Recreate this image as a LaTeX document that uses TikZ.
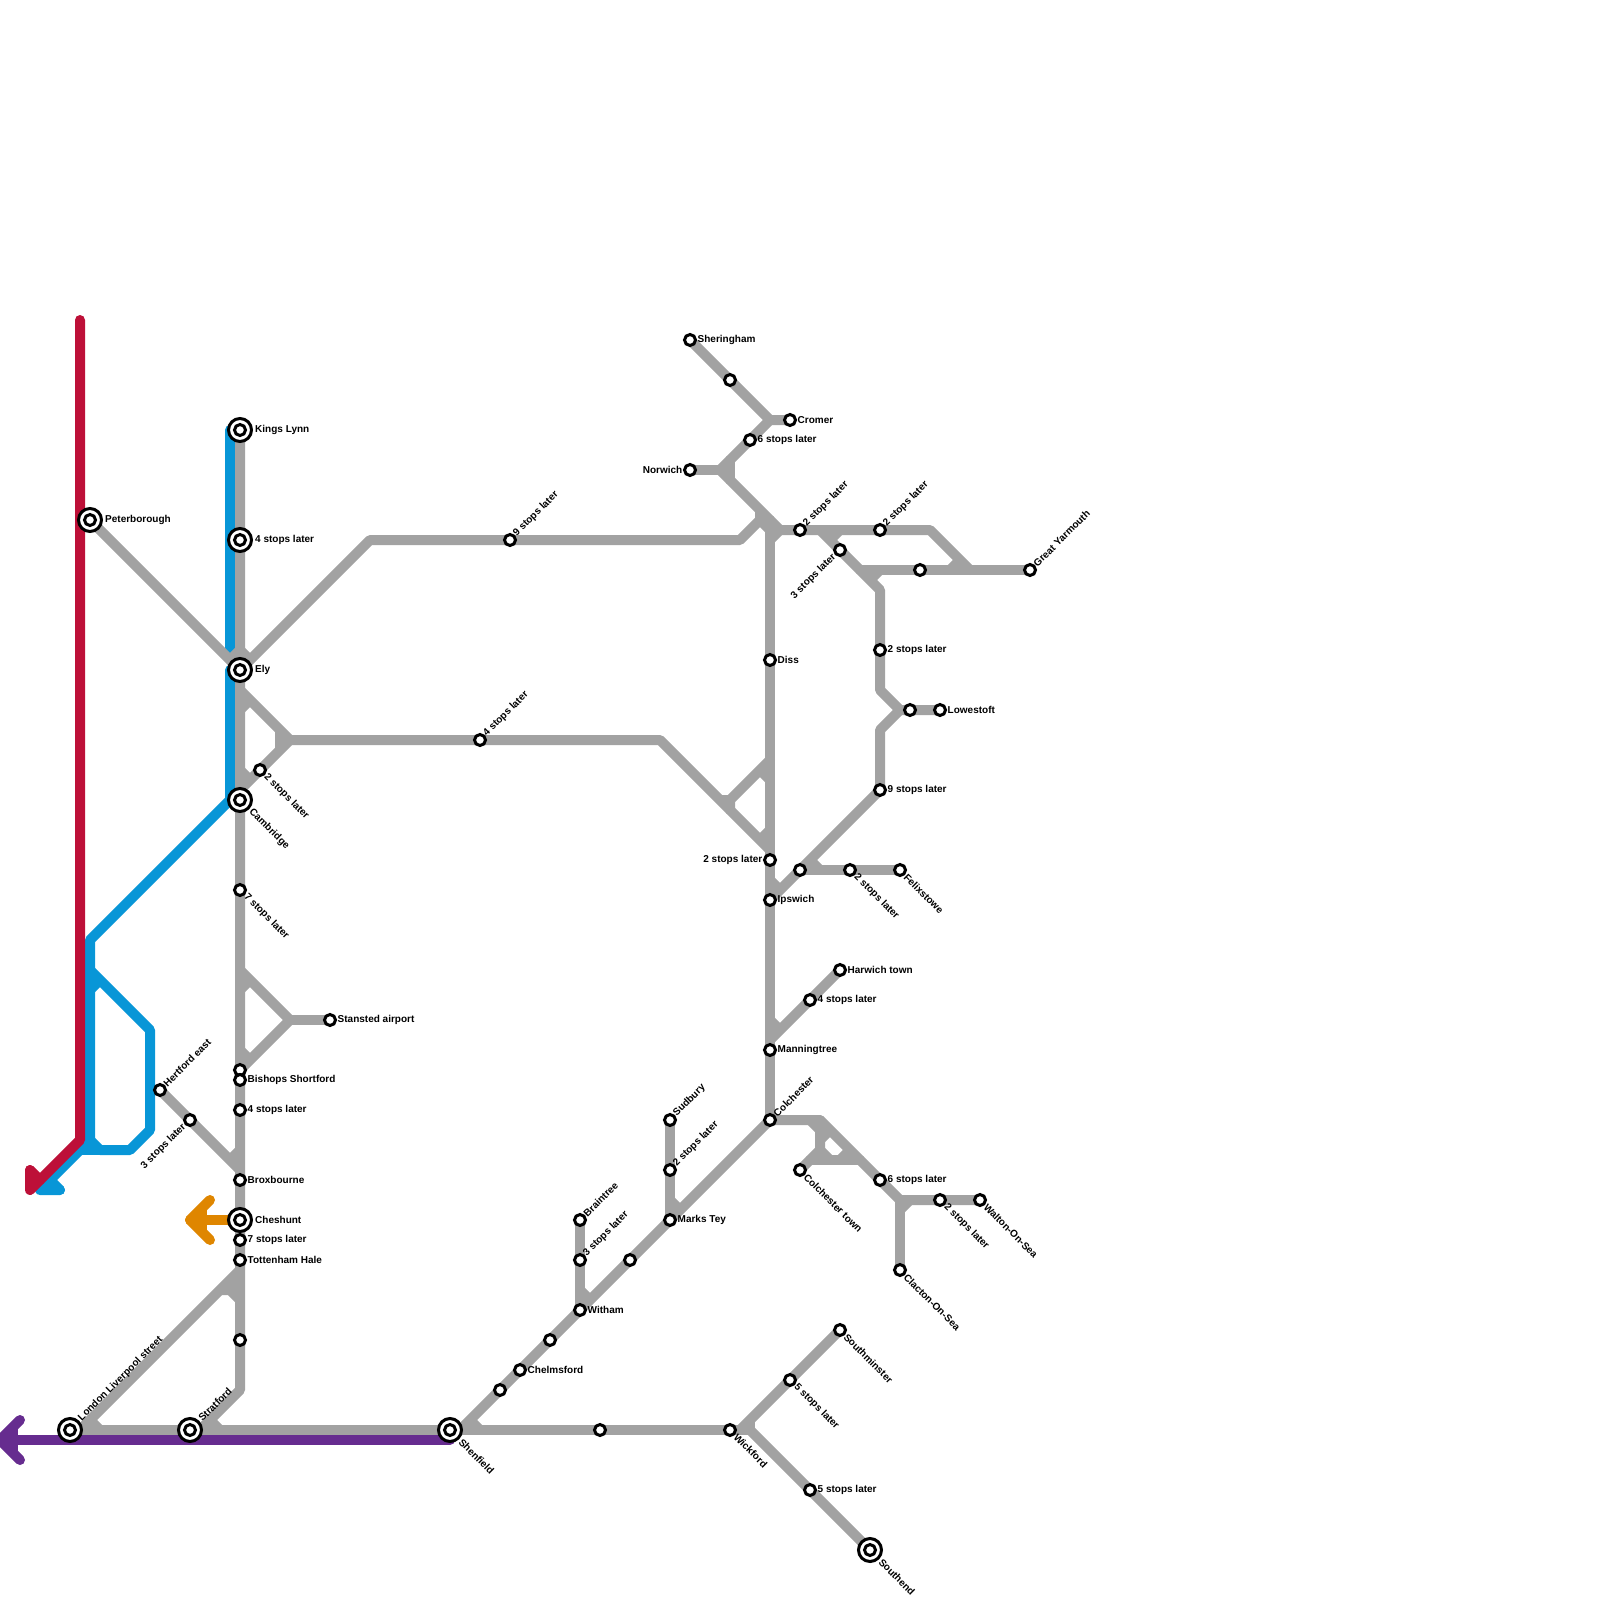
\documentclass[tikz,border=0pt]{standalone}
\usepackage{fontspec}
\setmainfont{Liberation Sans}
\pgfdeclarelayer{lines}
\pgfsetlayers{lines,main}
\definecolor{lgray}{HTML}{A2A2A2}
\definecolor{lblue}{HTML}{0896D7}
\definecolor{lred}{HTML}{BD1038}
\definecolor{lpurple}{HTML}{662C8F}
\definecolor{lorange}{HTML}{DF8600}
\tikzset{
  rail/.style={line width=10pt,line join=round,line cap=round},
  fil/.style={line width=10pt,lgray,line cap=butt},
  stnS/.style={circle,draw=black,fill=white,line width=3pt,inner sep=0pt,minimum size=11pt},
  stnB/.style={circle,draw=black,fill=white,line width=3pt,inner sep=0pt,minimum size=23pt},
  lb/.style={font=\fontsize{10pt}{10pt}\selectfont\bfseries,inner sep=0pt,text=black}
}
\newcommand{\St}[3]{\node[stnS] (#1) at (#2,#3) {};}
\newcommand{\Sb}[3]{\node[stnB] (#1) at (#2,#3) {};\node[stnS] (#1-i) at (#1.center) {};}
\newcommand{\LbR}[2]{\node[lb,anchor=west] (#1-l) at ([shift={(7.5,0)}]#1.center) {#2};}
\newcommand{\LbRR}[2]{\node[lb,anchor=west] (#1-l) at ([shift={(15,0)}]#1.center) {#2};}
\newcommand{\LbL}[2]{\node[lb,anchor=east] (#1-l) at ([shift={(-7.5,0)}]#1.center) {#2};}
\newcommand{\LbD}[2]{\node[lb,anchor=west,rotate=-45] (#1-l) at ([shift={(5.5,5.5)}]#1.center) {#2};}
\newcommand{\LbU}[2]{\node[lb,anchor=west,rotate=45] (#1-l) at ([shift={(5,-5)}]#1.center) {#2};}
\newcommand{\LbDD}[2]{\node[lb,anchor=west,rotate=-45] (#1-l) at ([shift={(10.5,10.5)}]#1.center) {#2};}
\newcommand{\LbUU}[2]{\node[lb,anchor=west,rotate=45] (#1-l) at ([shift={(10,-10.5)}]#1.center) {#2};}
\newcommand{\LbA}[2]{\node[lb,anchor=east,rotate=45] (#1-l) at ([shift={(-5.5,5.5)}]#1.center) {#2};}
\begin{document}
\begin{tikzpicture}[x=1pt,y=-1pt]
\useasboundingbox (0,0) rectangle (1600,1600);
% stations
\Sb{kings}{240}{430}\LbRR{kings}{Kings Lynn}
\Sb{foura}{240}{540}\LbRR{foura}{4 stops later}
\Sb{ely}{240}{670}\LbRR{ely}{Ely}
\Sb{pet}{90}{520}\LbRR{pet}{Peterborough}
\Sb{cam}{240}{800}\LbDD{cam}{Cambridge}
\Sb{chesh}{240}{1220}\LbRR{chesh}{Cheshunt}
\Sb{lon}{70}{1430}\LbUU{lon}{London Liverpool street}
\Sb{strat}{190}{1430}\LbUU{strat}{Stratford}
\Sb{shen}{450}{1430}\LbDD{shen}{Shenfield}
\Sb{send}{870}{1550}\LbDD{send}{Southend}
\St{twoa}{260}{770}\LbD{twoa}{2 stops later}
\St{seva}{240}{890}\LbD{seva}{7 stops later}
\St{bisha}{240}{1070}
\St{bish}{240}{1080}\LbR{bish}{Bishops Shortford}
\St{fourb}{240}{1110}\LbR{fourb}{4 stops later}
\St{brox}{240}{1180}\LbR{brox}{Broxbourne}
\St{sevb}{240}{1240}\LbR{sevb}{7 stops later}
\St{tott}{240}{1260}\LbR{tott}{Tottenham Hale}
\St{unna}{240}{1340}
\St{hert}{160}{1090}\LbU{hert}{Hertford east}
\St{threea}{190}{1120}\LbA{threea}{3 stops later}
\St{stan}{330}{1020}\LbR{stan}{Stansted airport}
\St{ninea}{510}{540}\LbU{ninea}{9 stops later}
\St{fourc}{480}{740}\LbU{fourc}{4 stops later}
\St{sher}{690}{340}\LbR{sher}{Sheringham}
\St{unnb}{730}{380}
\St{crom}{790}{420}\LbR{crom}{Cromer}
\St{sixa}{750}{440}\LbR{sixa}{6 stops later}
\St{norw}{690}{470}\LbL{norw}{Norwich}
\St{twob}{800}{530}\LbU{twob}{2 stops later}
\St{twoc}{880}{530}\LbU{twoc}{2 stops later}
\St{threeb}{840}{550}\LbA{threeb}{3 stops later}
\St{unnc}{920}{570}
\St{yarm}{1030}{570}\LbU{yarm}{Great Yarmouth}
\St{twod}{880}{650}\LbR{twod}{2 stops later}
\St{unnd}{910}{710}
\St{lowe}{940}{710}\LbR{lowe}{Lowestoft}
\St{nineb}{880}{790}\LbR{nineb}{9 stops later}
\St{diss}{770}{660}\LbR{diss}{Diss}
\St{twoe}{770}{860}\LbL{twoe}{2 stops later}
\St{ips}{770}{900}\LbR{ips}{Ipswich}
\St{unne}{800}{870}
\St{twof}{850}{870}\LbD{twof}{2 stops later}
\St{felix}{900}{870}\LbD{felix}{Felixstowe}
\St{harw}{840}{970}\LbR{harw}{Harwich town}
\St{fourd}{810}{1000}\LbR{fourd}{4 stops later}
\St{mann}{770}{1050}\LbR{mann}{Manningtree}
\St{colc}{770}{1120}\LbU{colc}{Colchester}
\St{colt}{800}{1170}\LbD{colt}{Colchester town}
\St{sixb}{880}{1180}\LbR{sixb}{6 stops later}
\St{twog}{940}{1200}\LbD{twog}{2 stops later}
\St{walt}{980}{1200}\LbD{walt}{Walton-On-Sea}
\St{clac}{900}{1270}\LbD{clac}{Clacton-On-Sea}
\St{sud}{670}{1120}\LbU{sud}{Sudbury}
\St{twoh}{670}{1170}\LbU{twoh}{2 stops later}
\St{marks}{670}{1220}\LbR{marks}{Marks Tey}
\St{brain}{580}{1220}\LbU{brain}{Braintree}
\St{threec}{580}{1260}\LbU{threec}{3 stops later}
\St{unnf}{630}{1260}
\St{with}{580}{1310}\LbR{with}{Witham}
\St{unng}{550}{1340}
\St{chelm}{520}{1370}\LbR{chelm}{Chelmsford}
\St{unnh}{500}{1390}
\St{unni}{600}{1430}
\St{wick}{730}{1430}\LbD{wick}{Wickford}
\St{fivea}{790}{1380}\LbD{fivea}{5 stops later}
\St{smin}{840}{1330}\LbD{smin}{Southminster}
\St{fiveb}{810}{1490}\LbR{fiveb}{5 stops later}
\begin{pgfonlayer}{lines}
% blue
\draw[rail,lblue] (230,430) -- (230,650);
\draw[rail,lblue] (230,670) -- (230,800) -- (90,940) -- (90,1140) -- (40,1190) -- (60,1190);
\draw[rail,lblue] (90,970) -- (150,1030) -- (150,1130) -- (130,1150) -- (100,1150) -- (90,1140);
\draw[line width=10pt,lblue] (82,1150) -- (100,1150);
\draw[line width=10pt,lblue] (90,990) -- (100,980);
\draw[line width=10pt,lblue,line cap=round] (50,1180) -- (60,1190);
% gray
\begin{scope}[rail,lgray]
\draw (kings.center) -- (tott.center) -- (240,1390) -- (200,1430);
\draw (pet.center) -- (ely.center);
\draw (ely.center) -- (370,540) -- (740,540) -- (760,520);
\draw (240,690) -- (290,740) -- (240,790);
\draw (290,740) -- (660,740) -- (770,850);
\draw (240,970) -- (290,1020) -- (bisha.center);
\draw (290,1020) -- (stan.center);
\draw (hert.center) -- (240,1170);
\draw (lon.center) -- (wick.center) -- (750,1430);
\draw (80,1430) -- (240,1270);
\draw (460,1430) -- (colc.center);
\draw (colc.center) -- (mann.center) -- (ips.center) -- (diss.center) -- (770,520);
\draw (sher.center) -- (770,420) -- (crom.center);
\draw (770,420) -- (720,470) -- (770,520);
\draw (norw.center) -- (720,470);
\draw (730,460) -- (730,480);
\draw (770,530) -- (930,530) -- (970,570);
\draw (860,570) -- (yarm.center);
\draw (820,530) -- (880,590) -- (880,690) -- (900,710) -- (lowe.center);
\draw (900,710) -- (880,730) -- (nineb.center) -- (770,900);
\draw (unne.center) -- (felix.center);
\draw (770,760) -- (730,800) -- (730,810);
\draw (harw.center) -- (770,1040);
\draw (colc.center) -- (820,1120) -- (900,1200) -- (walt.center);
\draw (900,1200) -- (clac.center);
\draw (820,1120) -- (820,1150) -- (colt.center);
\draw (810,1160) -- (860,1160);
\draw (brain.center) -- (with.center);
\draw (sud.center) -- (marks.center);
\draw (740,1430) -- (smin.center);
\draw (750,1430) -- (send.center);
\end{scope}
% small gusset strokes at the junctions
\draw[fil] (230,660) -- (240,650);
\draw[fil] (240,650) -- (250,660);
\draw[fil] (770,520) -- (780,530);
\draw[fil] (240,710) -- (250,700);
\draw[fil] (240,770) -- (250,780);
\draw[fil] (240,990) -- (250,980);
\draw[fil] (240,1050) -- (250,1060);
\draw[fil] (230,1160) -- (240,1150);
\draw[fil] (90,1420) -- (100,1430);
\draw[fil] (210,1420) -- (220,1430);
\draw[fil] (470,1420) -- (480,1430);
\draw[fil] (580,1290) -- (590,1300);
\draw[fil] (670,1200) -- (680,1210);
\draw[fil] (770,540) -- (780,530);
\draw[fil] (760,520) -- (770,530);
\draw[fil] (760,510) -- (760,525);
\draw[fil] (830,540) -- (840,530);
\draw[fil] (870,580) -- (880,570);
\draw[fil] (950,570) -- (960,560);
\draw[fil] (770,880) -- (780,890);
\draw[fil] (810,860) -- (820,870);
\draw[fil] (760,770) -- (770,780);
\draw[fil] (760,840) -- (770,830);
\draw[fil] (770,1020) -- (780,1030);
\draw[fil] (810,1120) -- (820,1130);
\draw[fil] (820,1140) -- (830,1130);
\draw[fil] (820,1150) -- (830,1160);
\draw[fil] (840,1160) -- (850,1150);
\draw[fil] (900,1210) -- (910,1200);
\draw[fil] (280,730) -- (280,750);
\draw[fil] (720,800) -- (730,800);
\draw[fil] (750,1420) -- (750,1430);
\fill[lgray] (222,1295) -- (228,1295) -- (235,1302) -- (236,1270) -- (220,1286) -- cycle;
% orange, purple, red
\draw[rail,lorange] (chesh.center) -- (190,1220);
\draw[rail,lorange] (210,1200) -- (190,1220) -- (210,1240);
\draw[line width=10pt,lorange] (202,1207) -- (202,1233);
\draw[rail,lpurple] (450,1440) -- (0,1440);
\draw[rail,lpurple] (20,1420) -- (0,1440) -- (20,1460);
\draw[line width=10pt,lpurple] (13,1427) -- (13,1453);
\draw[rail,lred] (80,320) -- (80,1140) -- (30,1190) -- (30,1170);
\draw[rail,lred] (30,1170) -- (40,1180);
\end{pgfonlayer}
\end{tikzpicture}
\end{document}
